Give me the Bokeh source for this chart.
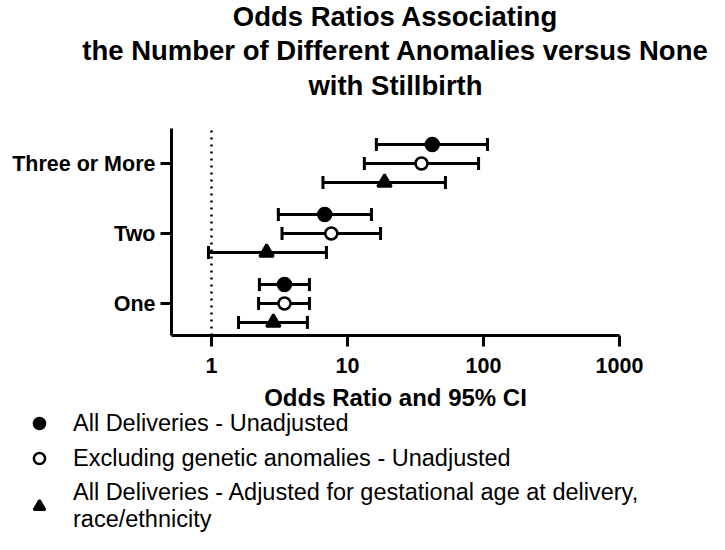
from bokeh.plotting import figure
from bokeh.models import (Range1d, FixedTicker, Whisker, TeeHead, ColumnDataSource,
                          Legend, LegendItem, Label)
from bokeh.transform import dodge
from bokeh.embed import file_html
from bokeh.resources import INLINE

# ---- data ----
categories = ["One", "Two", "Three or More"]
cat_pos = [1, 2, 3]

all_or = [3.44, 6.8, 42.0]
all_lo = [2.25, 3.1, 16.3]
all_hi = [5.25, 15.0, 107.0]

excl_or = [3.44, 7.6, 35.0]
excl_lo = [2.22, 3.3, 13.3]
excl_hi = [5.25, 17.5, 92.0]

adj_or = [2.85, 2.54, 18.7]
adj_lo = [1.58, 0.95, 6.6]
adj_hi = [5.07, 7.0, 52.5]

series_labels = [
    "All Deliveries - Unadjusted",
    "Excluding genetic anomalies - Unadjusted",
    "All Deliveries - Adjusted for gestational age at delivery,\nrace/ethnicity",
]

x_ticks = [1, 10, 100, 1000]
x_tick_labels = ["1", "10", "100", "1000"]
ref_or = 1  # no-effect reference line

title_lines = ["Odds Ratios Associating",
               "the Number of Different Anomalies versus None",
               "with Stillbirth"]

# ---- layout (pixels) ----
FONT = "Liberation Sans"
W, H = 709, 534
PLOT_L, PLOT_R, PLOT_T, PLOT_B = 171, 619, 128, 335   # axis box in the page
X_ONE = 211            # pixel of OR = 1
PX_DECADE = 136        # pixels per decade
Y_ONE, PX_CAT = 303, 70  # pixel of first category, pixels per category

def x_at(px):
    return 10 ** ((px - X_ONE) / PX_DECADE)

def y_at(py):
    return 1 + (Y_ONE - py) / PX_CAT

x_lo_axis, x_hi_axis = x_at(PLOT_L), max(x_ticks)
y_lo_axis, y_hi_axis = y_at(PLOT_B), y_at(PLOT_T)

p = figure(width=W, height=H, output_backend="svg", toolbar_location=None,
           x_axis_type="log", x_range=Range1d(x_at(0), x_at(W)),
           y_range=Range1d(y_at(H), y_at(0)),
           min_border_left=0, min_border_right=0, min_border_top=0, min_border_bottom=0)
p.title.visible = False
p.outline_line_color = None
p.xgrid.visible = False
p.ygrid.visible = False

# axes pinned to the corner of the data box
p.xaxis.fixed_location = y_lo_axis
p.xaxis.bounds = (x_lo_axis, x_hi_axis)
p.yaxis.fixed_location = x_lo_axis
p.yaxis.bounds = (y_lo_axis, y_hi_axis)
p.xaxis.ticker = FixedTicker(ticks=x_ticks, minor_ticks=[])
p.xaxis.major_label_overrides = {t: l for t, l in zip(x_ticks, x_tick_labels)}
p.yaxis.ticker = FixedTicker(ticks=cat_pos, minor_ticks=[])
p.yaxis.major_label_overrides = {c: l for c, l in zip(cat_pos, categories)}
p.xaxis.axis_label = "Odds Ratio and 95% CI"
for ax in (p.xaxis, p.yaxis):
    ax.axis_line_width = 3
    ax.axis_line_color = "black"
    ax.major_tick_line_width = 3
    ax.major_tick_line_color = "black"
    ax.major_tick_in = 0
    ax.major_tick_out = 11
    ax.minor_tick_line_color = None
    ax.major_label_text_font = FONT
    ax.major_label_text_font_style = "bold"
    ax.major_label_text_font_size = "21.5px"
    ax.major_label_text_color = "black"
p.xaxis.major_label_standoff = 11
p.yaxis.major_label_standoff = 5
p.xaxis.axis_label_text_font = FONT
p.xaxis.axis_label_text_font_style = "bold"
p.xaxis.axis_label_text_font_size = "24px"
p.xaxis.axis_label_text_color = "black"
p.xaxis.axis_label_standoff = 8

# title lines
for txt, cy in zip(title_lines, [16, 50, 85]):
    p.add_layout(Label(x=(PLOT_L + PLOT_R) / 2, y=H - cy, x_units="screen", y_units="screen",
                       text=txt, text_align="center", text_baseline="middle",
                       text_font=FONT, text_font_style="bold",
                       text_font_size="27.5px", text_color="black"))

# reference line at OR = 1
p.segment(x0=[ref_or], y0=[y_lo_axis], x1=[ref_or], y1=[y_hi_axis],
          line_color="black", line_width=2.5, line_dash="2 5")

specs = [
    (all_or, all_lo, all_hi, 0.27, dict(marker="circle", fill_color="black", size=13)),
    (excl_or, excl_lo, excl_hi, 0.0, dict(marker="circle", fill_color="white", size=12)),
    (adj_or, adj_lo, adj_hi, -0.27, dict(marker="triangle", fill_color="black", size=14)),
]
items = []
for (orv, lo, hi, off, mk), lab in zip(specs, series_labels):
    src = ColumnDataSource(dict(y=cat_pos, orv=orv, lo=lo, hi=hi))
    w = Whisker(source=src, base=dodge("y", off), lower="lo", upper="hi", dimension="width",
                line_width=3, line_color="black",
                lower_head=TeeHead(size=13, line_width=3, line_color="black"),
                upper_head=TeeHead(size=13, line_width=3, line_color="black"))
    p.add_layout(w)
    r = p.scatter(x="orv", y=dodge("y", off), source=src, line_color="black",
                  line_width=2.5, **mk)
    items.append(LegendItem(label=lab, renderers=[r]))

legend = Legend(items=items, location=(25, 1), orientation="vertical",
                background_fill_alpha=0, border_line_color=None,
                padding=0, margin=0, spacing=7,
                glyph_width=28, glyph_height=28, label_standoff=20,
                label_text_font=FONT, label_text_font_size="23.5px",
                label_text_color="black", label_text_line_height=1.05)
p.add_layout(legend, "center")

open("out.html", "w").write(file_html(p, INLINE))
